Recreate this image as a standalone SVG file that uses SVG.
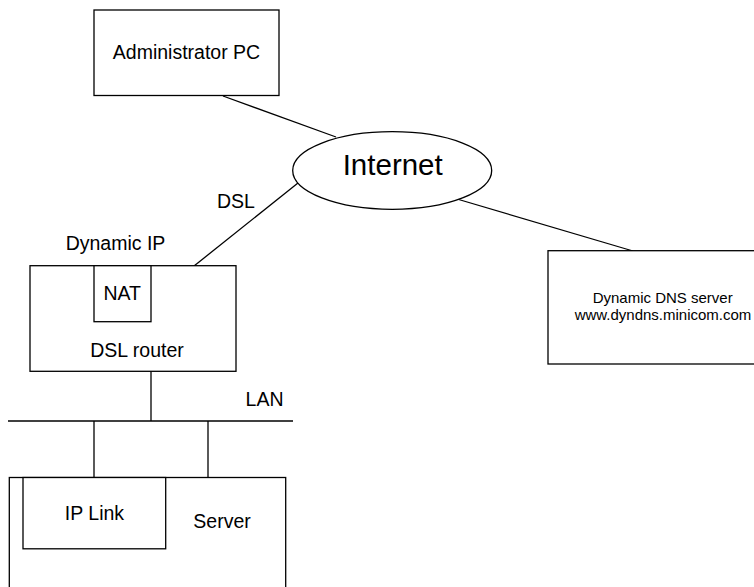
<svg xmlns="http://www.w3.org/2000/svg" width="754" height="587" viewBox="0 0 754 587">
<style>
.b{fill:#fff;stroke:#000;stroke-width:1.3}
.c{fill:none;stroke:#000;stroke-width:1.3}
text{font-family:"Liberation Sans",Arial,sans-serif;fill:#000;text-anchor:middle}
.t{font-size:19.5px}
.s{font-size:15px}
.l{font-size:29.5px}
</style>
<rect width="754" height="587" fill="#fff"/>
<g id="connectors">
<line class="c" x1="223" y1="96" x2="336" y2="137"/>
<line class="c" x1="298" y1="183" x2="194" y2="266"/>
<line class="c" x1="457" y1="199" x2="633" y2="251"/>
<line class="c" x1="151" y1="371" x2="151" y2="421"/>
<line class="c" x1="8" y1="421" x2="293" y2="421"/>
<line class="c" x1="94" y1="421" x2="94" y2="478"/>
<line class="c" x1="208" y1="421" x2="208" y2="478"/>
<text class="t" x="236" y="208">DSL</text>
<text class="t" x="115.5" y="250">Dynamic IP</text>
<text class="t" x="264.5" y="406">LAN</text>
</g>
<g id="admin-pc">
<rect class="b" x="94" y="10" width="185" height="85.5"/>
<text class="t" x="186.5" y="59">Administrator PC</text>
</g>
<g id="internet">
<ellipse class="b" cx="392.2" cy="170.5" rx="99.5" ry="38.8"/>
<text class="l" x="392.7" y="175">Internet</text>
</g>
<g id="dns-server">
<rect class="b" x="548" y="250.7" width="232" height="113.3"/>
<text class="s" x="662.7" y="303">Dynamic DNS server</text>
<text class="s" x="663" y="320">www.dyndns.minicom.com</text>
</g>
<g id="dsl-router">
<rect class="b" x="30" y="265.7" width="206" height="105.6"/>
<text class="t" x="137" y="357">DSL router</text>
</g>
<g id="nat">
<rect class="b" x="94" y="265.7" width="57" height="56"/>
<text class="t" x="122.2" y="300">NAT</text>
</g>
<g id="server">
<rect class="b" x="9.3" y="477.5" width="276.4" height="130"/>
<text class="t" x="222" y="528">Server</text>
</g>
<g id="ip-link">
<rect class="b" x="23" y="477.5" width="142.7" height="71.3"/>
<text class="t" x="94.5" y="520">IP Link</text>
</g>
</svg>
